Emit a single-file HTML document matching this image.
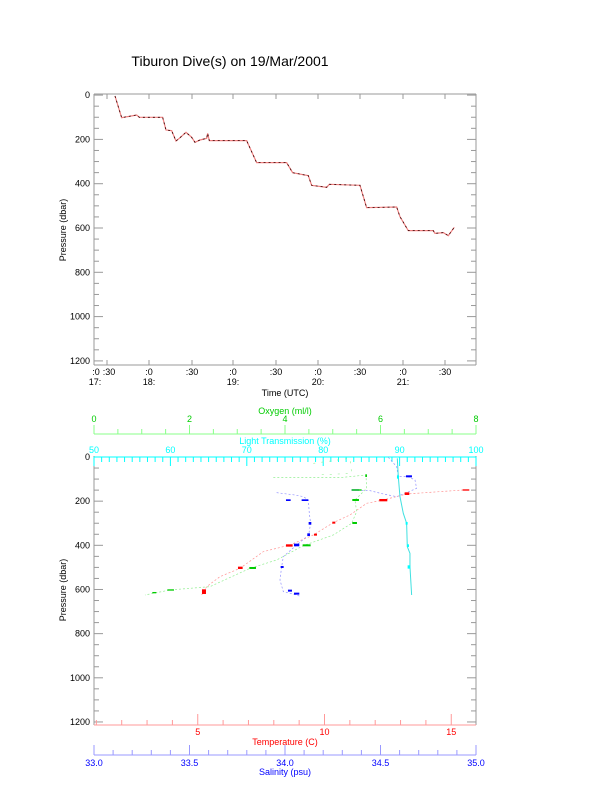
<!DOCTYPE html>
<html><head><meta charset="utf-8"><style>
html,body{margin:0;padding:0;background:#fff;}
svg{display:block;font-family:"Liberation Sans",Arial,sans-serif;}
</style></head><body>
<svg id="s" width="612" height="785" viewBox="0 0 612 785" xmlns="http://www.w3.org/2000/svg">
<text x="230" y="66" font-size="14" text-anchor="middle">Tiburon Dive(s) on 19/Mar/2001</text>
<g id="g"></g>
<!-- top data -->
<g transform="translate(50,80) scale(0.3333)">
<polyline fill="none" stroke="#f08080" stroke-width="1.2" vector-effect="non-scaling-stroke" points="195,48 215,113 260,105 268,112 338,112 348,150 365,152 378,183 388,175 408,157 425,172 435,187 450,180 470,175 473,160 478,182 590,182 620,248 710,248 728,278 775,287 785,316 830,322 838,313 930,316 950,383 1040,381 1050,410 1075,452 1150,452 1155,460 1180,458 1195,467 1213,442"/>
<polyline fill="none" stroke="#300" stroke-width="0.8" stroke-dasharray="2 3" vector-effect="non-scaling-stroke" points="195,48 215,113 260,105 268,112 338,112 348,150 365,152 378,183 388,175 408,157 425,172 435,187 450,180 470,175 473,160 478,182 590,182 620,248 710,248 728,278 775,287 785,316 830,322 838,313 930,316 950,383 1040,381 1050,410 1075,452 1150,452 1155,460 1180,458 1195,467 1213,442"/>
</g>
<!-- bottom data -->
<g transform="translate(50,400) scale(0.3333)" fill="none">
<polyline stroke="#9090ff" stroke-width="0.7" stroke-dasharray="2 2" vector-effect="non-scaling-stroke" points="1015,172 1040,200 1045,230 1075,230 1095,240 1100,265 1070,278 1040,290 1000,282 960,272 905,270"/>
<polyline stroke="#9090ff" stroke-width="0.7" stroke-dasharray="2 2" vector-effect="non-scaling-stroke" points="680,278 735,285 760,290 775,300 778,340 782,370 776,405 740,435 700,470 695,500 690,540 700,575 720,580 740,585 752,590"/>
<polyline stroke="#ff9090" stroke-width="0.7" stroke-dasharray="2 2" vector-effect="non-scaling-stroke" points="1240,270 1070,282 1000,300 950,310 900,345 850,368 790,405 720,435 640,455 570,505 510,530 470,560 455,585"/>
<polyline stroke="#90ee90" stroke-width="0.7" stroke-dasharray="2 2" vector-effect="non-scaling-stroke" points="670,233 870,233 948,225 950,265 940,275 915,300 920,335 905,370 850,405 760,437 680,480 600,505 480,560 360,570 285,585"/>
<polyline stroke="#90ee90" stroke-width="0.6" stroke-dasharray="2 6" vector-effect="non-scaling-stroke" points="790,190 900,175 905,220 800,225"/>
<polyline stroke="#40e0e0" stroke-width="1" vector-effect="non-scaling-stroke" points="1042,175 1045,230 1050,290 1060,340 1070,370 1072,440 1080,460 1080,500 1085,585"/>
<g stroke="none">
<rect x="1068" y="226" width="18" height="6" fill="#00f"/><rect x="905" y="268" width="22" height="4" fill="#00f"/><rect x="708" y="298" width="14" height="5" fill="#00f"/><rect x="755" y="298" width="20" height="5" fill="#00f"/>
<rect x="776" y="366" width="8" height="8" fill="#00f"/><rect x="772" y="400" width="8" height="8" fill="#00f"/><rect x="732" y="431" width="16" height="8" fill="#00f"/><rect x="692" y="498" width="9" height="6" fill="#00f"/><rect x="714" y="569" width="12" height="6" fill="#00f"/><rect x="732" y="578" width="16" height="6" fill="#00f"/>
<rect x="1238" y="268" width="20" height="4" fill="#f00"/><rect x="1064" y="277" width="14" height="8" fill="#f00"/><rect x="988" y="297" width="24" height="7" fill="#f00"/><rect x="847" y="365" width="9" height="6" fill="#f00"/><rect x="792" y="401" width="9" height="6" fill="#f00"/><rect x="708" y="433" width="20" height="7" fill="#f00"/><rect x="564" y="500" width="14" height="7" fill="#f00"/><rect x="456" y="568" width="12" height="14" fill="#f00"/>
<rect x="905" y="268" width="30" height="4" fill="#0c0"/><rect x="907" y="297" width="20" height="6" fill="#0c0"/><rect x="907" y="366" width="14" height="6" fill="#0c0"/><rect x="758" y="433" width="24" height="6" fill="#0c0"/><rect x="598" y="501" width="20" height="6" fill="#0c0"/><rect x="352" y="568" width="20" height="4" fill="#0c0"/><rect x="307" y="576" width="12" height="4" fill="#0c0"/><rect x="946" y="223" width="5" height="8" fill="#0c0"/>
<rect x="1041" y="226" width="6" height="10" fill="#0ff"/><rect x="1067" y="366" width="6" height="8" fill="#0ff"/><rect x="1071" y="433" width="6" height="8" fill="#0ff"/><rect x="1073" y="496" width="8" height="10" fill="#0ff"/>
</g></g>
</svg>
<script>
var g=document.getElementById('g'),o='';
function L(x1,y1,x2,y2,c,w){o+='<line x1="'+x1+'" y1="'+y1+'" x2="'+x2+'" y2="'+y2+'" stroke="'+c+'" stroke-width="'+(w||1)+'"/>';}
function T(x,y,t,c,a,s,r){o+='<text x="'+x+'" y="'+y+'" fill="'+(c||'#000')+'" font-size="'+(s||9)+'" text-anchor="'+(a||'middle')+'"'+(r?' transform="rotate(-90 '+x+' '+y+')"':'')+'>'+t+'</text>';}
var gr='#999';
var X0=94,X1=476;
L(X0,94,X0,365,gr);L(X1,94,X1,365,gr);L(X0,94,X1,94,gr);L(X0,365,X1,365,gr);
for(var p=0;p<=1200;p+=50){var y=95.1+p*0.2215;var l=(p%200==0)?9:5;L(X0,y,X0+l,y,gr);L(X1-l,y,X1,y,gr);if(p%200==0)T(X0-4,y+3,p,'#000','end');}
T(66,230,'Pressure (dbar)','#000','middle',9,1);
var hx=[107,149,192,233,276,318,360,403,445];
for(var i=0;i<hx.length;i++){L(hx[i],94,hx[i],99,gr);L(hx[i],360,hx[i],365,gr);}
T(96,375,':0');T(109,375,':30');T(149,375,':0');T(192,375,':30');T(233,375,':0');T(276,375,':30');T(318,375,':0');T(360,375,':30');T(403,375,':0');T(445,375,':30');
T(95,385,'17:');T(149,385,'18:');T(233,385,'19:');T(318,385,'20:');T(403,385,'21:');
T(285,396,'Time (UTC)');
L(X0,456,X0,725,gr);L(X1,456,X1,725,gr);
for(var p=0;p<=1200;p+=50){var y=457+p*0.2208;var l=(p%200==0)?9:5;L(X0,y,X0+l,y,gr);L(X1-l,y,X1,y,gr);if(p%200==0)T(X0-4,y+3,p,'#000','end');}
T(66,590,'Pressure (dbar)','#000','middle',9,1);
L(X0,457,X1,457,'#0ff');
for(var v=50;v<=100;v++){var x=X0+(v-50)*7.64;L(x,457,x,(v%10==0)?466:462,'#0ff');}
for(var v=50;v<=100;v+=10)T(X0+(v-50)*7.64,453,v,'#0ff');
T(285,444,'Light Transmission (%)','#0ff');
L(X0,434,X1,434,'#8f8');
for(var v=0;v<=8;v+=0.5){var x=X0+v*47.75;L(x,434,x,(v%2==0)?425:429,'#8f8');}
for(var v=0;v<=8;v+=2)T(X0+v*47.75,422,v,'#0c0');
T(285,414,'Oxygen (ml/l)','#0c0');
L(X0,725,X1,725,'#f99');
for(var t=1;t<=16;t++){var x=71+t*25.35;if(x>X1)break;L(x,725,x,(t%5==0)?714:720,'#f99');}
for(var t=5;t<=15;t+=5)T(71+t*25.35,735,t,'#f00');
T(285,745,'Temperature (C)','#f00');
L(X0,755,X1,755,'#99f');
for(var i=0;i<=20;i++){var x=X0+i*19.1;L(x,755,x,(i%5==0)?745:750,'#99f');}
var sl=['33.0','33.5','34.0','34.5','35.0'];for(var i=0;i<5;i++)T(X0+i*95.5,766,sl[i],'#00f');
T(285,775,'Salinity (psu)','#00f');
g.innerHTML=o;
</script>
</body></html>
